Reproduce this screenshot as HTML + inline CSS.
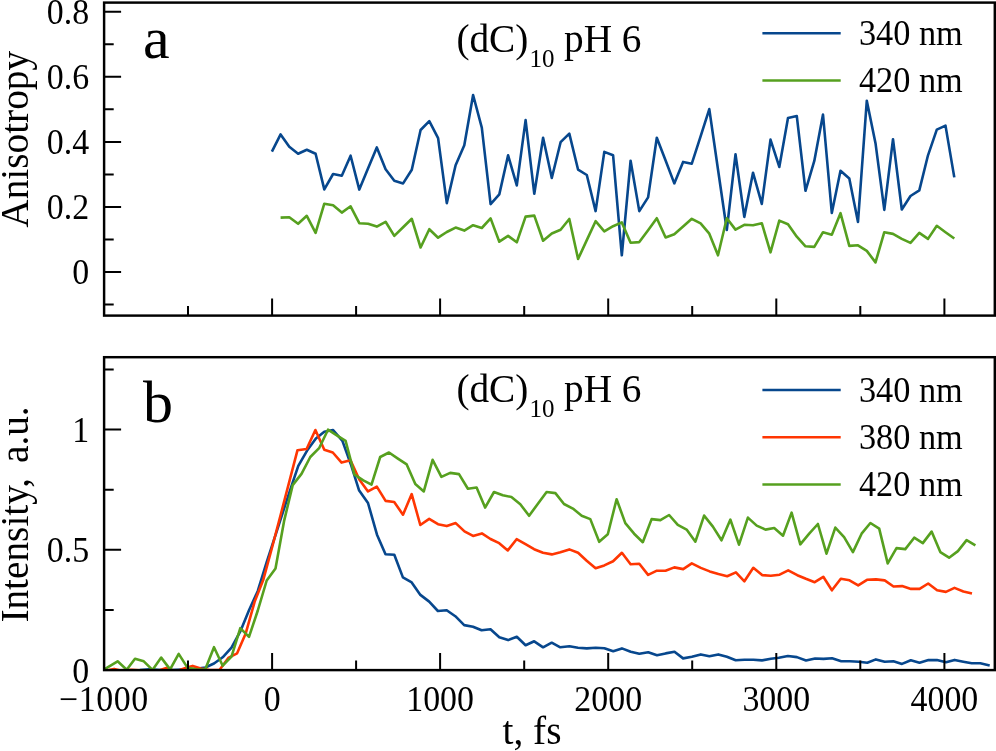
<!DOCTYPE html>
<html lang="en"><head><meta charset="utf-8"><title>(dC)10 pH 6 anisotropy and intensity</title>
<style>html,body{margin:0;padding:0;background:#fff}body{width:996px;height:751px;overflow:hidden}svg{display:block}text{font-family:"Liberation Serif","Times New Roman",Times,serif;fill:#000}.tk{font-size:33.9px}.lg{font-size:34.3px}.ng{letter-spacing:0.55px}.lb{font-size:39.3px}.pn{font-size:60px}.sb{font-size:25px}.ws{word-spacing:5.0px}</style></head><body>
<svg width="996" height="751" viewBox="0 0 996 751">
<rect x="0" y="0" width="996" height="751" fill="#fff"/>
<defs><clipPath id="ca"><rect x="104.1" y="2.6" width="890.7" height="313.0"/></clipPath><clipPath id="cb"><rect x="104.1" y="357.2" width="890.7" height="312.9"/></clipPath></defs>
<g clip-path="url(#ca)">
<polyline points="271.9,151.7 280.6,134.4 289.3,146.8 298.1,153.7 306.8,149.7 315.6,153.7 324.3,189.4 333.1,174.0 341.8,175.8 350.6,155.7 359.3,189.6 368.1,168.3 376.8,147.4 385.6,169.3 394.3,180.8 403.1,183.4 411.8,169.7 420.6,130.0 429.3,121.1 438.1,138.2 446.8,203.1 455.6,165.3 464.3,145.2 473.1,95.0 481.8,127.6 490.6,204.1 499.3,194.4 508.1,155.3 516.8,185.4 525.6,120.1 534.3,193.8 543.1,137.8 551.8,178.0 560.6,142.2 569.3,133.6 578.1,169.7 586.8,175.0 595.6,211.1 604.3,151.9 613.1,155.3 621.8,255.3 630.6,160.7 639.3,211.1 648.1,197.4 656.8,137.8 665.6,160.5 674.3,183.4 683.1,161.9 691.8,163.7 700.6,136.4 709.3,109.1 718.0,169.5 726.8,230.0 735.5,154.3 744.3,216.9 753.0,172.7 761.8,203.9 770.5,139.6 779.3,166.9 788.0,118.1 796.8,116.1 805.5,190.8 814.3,160.9 823.0,114.5 831.8,212.9 840.5,170.7 849.3,178.4 858.0,221.9 866.8,100.7 875.5,143.2 884.3,209.9 893.0,139.2 901.8,209.5 910.5,196.0 919.3,190.4 928.0,155.3 936.8,129.6 945.5,125.6 954.3,177.4" fill="none" stroke="#07478d" stroke-width="2.6" stroke-linejoin="round" stroke-linecap="butt"/>
<polyline points="280.6,217.6 289.3,217.2 298.1,223.8 306.8,215.8 315.6,232.9 324.3,203.7 333.1,205.3 341.8,212.6 350.6,206.3 359.3,223.2 368.1,223.8 376.8,226.6 385.6,221.8 394.3,235.9 403.1,227.3 411.8,218.8 420.6,247.5 429.3,229.2 438.1,237.7 446.8,232.0 455.6,227.6 464.3,230.6 473.1,225.2 481.8,228.0 490.6,218.4 499.3,241.7 508.1,235.9 516.8,242.3 525.6,216.6 534.3,215.6 543.1,240.7 551.8,233.5 560.6,229.8 569.3,219.0 578.1,259.0 586.8,240.1 595.6,221.2 604.3,231.4 613.1,226.2 621.8,222.4 630.6,242.7 639.3,242.1 648.1,230.2 656.8,218.2 665.6,237.5 674.3,234.3 683.1,226.6 691.8,218.8 700.6,223.4 709.3,233.7 718.0,255.3 726.8,218.2 735.5,229.6 744.3,224.8 753.0,225.2 761.8,223.2 770.5,252.3 779.3,220.6 788.0,224.2 796.8,236.7 805.5,246.3 814.3,246.9 823.0,232.2 831.8,234.7 840.5,213.2 849.3,245.9 858.0,245.3 866.8,250.9 875.5,262.4 884.3,232.2 893.0,233.9 901.8,238.9 910.5,242.9 919.3,232.9 928.0,238.9 936.8,225.8 945.5,232.2 954.3,238.5" fill="none" stroke="#56a01f" stroke-width="2.6" stroke-linejoin="round" stroke-linecap="butt"/>
</g>
<g clip-path="url(#cb)">
<polyline points="104.1,670.2 139.7,670.0 149.7,669.2 164.7,670.2 189.7,669.4 196.3,668.8 205.2,667.5 214.0,663.5 222.7,657.3 231.5,647.6 240.3,631.4 249.0,610.3 257.8,591.0 266.6,562.4 275.9,533.9 285.1,505.4 292.7,482.4 298.3,465.8 307.1,450.6 315.9,438.5 324.3,431.8 333.1,430.0 342.4,440.9 350.8,464.2 359.0,490.2 368.0,503.0 377.0,534.7 385.5,554.3 394.3,554.7 402.9,577.4 411.7,582.4 420.4,594.9 429.2,601.6 437.9,611.0 446.7,610.2 455.3,616.2 464.2,625.1 473.0,626.7 481.6,630.3 490.5,629.3 499.3,637.3 508.1,640.1 516.8,636.7 525.6,645.3 534.2,641.3 543.1,647.3 551.7,642.7 560.3,647.3 569.4,646.3 578.0,647.7 586.8,648.4 595.8,647.7 604.4,648.2 613.2,651.2 621.9,648.4 630.7,651.8 639.3,653.8 648.2,652.2 657.0,655.2 665.6,653.4 674.5,651.8 683.1,658.4 691.9,656.8 700.8,654.4 709.4,656.2 718.3,654.4 726.9,656.8 735.7,660.2 744.4,659.8 753.4,659.8 762.0,660.4 770.9,658.7 778.8,657.8 787.9,656.0 796.9,657.1 806.0,660.5 815.1,658.5 823.5,658.9 832.1,658.3 841.2,661.2 849.8,661.2 858.7,661.7 867.3,662.8 875.9,659.4 884.7,661.7 893.4,661.2 902.0,663.9 910.8,660.3 919.5,662.8 928.5,660.1 936.9,660.1 946.0,662.3 954.6,659.9 963.3,661.7 971.7,663.3 980.3,663.3 989.7,665.5" fill="none" stroke="#07478d" stroke-width="2.6" stroke-linejoin="round" stroke-linecap="butt"/>
<polyline points="104.1,670.3 108.7,670.0 114.1,668.9 119.7,670.3 131.7,669.8 139.7,670.3 159.7,670.3 166.3,668.0 172.7,670.3 179.7,670.0 187.7,667.3 192.7,665.9 200.7,668.5 209.7,670.0 219.5,669.9 228.3,657.9 237.1,653.3 245.8,633.2 254.6,601.8 263.4,579.4 272.2,547.0 281.0,513.5 289.7,480.1 297.5,450.2 306.6,449.0 315.4,430.0 324.3,449.8 332.8,452.5 341.6,462.6 350.5,460.2 359.3,479.5 368.0,491.4 376.8,486.6 385.6,500.9 394.2,502.0 403.0,514.7 411.7,494.1 420.3,525.0 429.2,518.9 438.0,524.2 446.8,526.1 455.7,523.1 464.5,531.4 473.0,535.9 481.9,533.4 490.5,539.0 499.2,543.2 507.8,550.4 516.6,539.2 525.5,544.2 534.1,549.2 543.0,552.8 551.8,554.4 560.4,552.2 569.3,549.4 578.1,552.8 586.7,560.8 595.6,568.3 604.3,565.4 613.1,561.3 621.9,552.8 630.6,564.3 639.3,563.7 648.1,574.9 656.9,570.7 665.5,570.8 674.3,567.4 683.2,569.1 691.8,563.4 700.8,567.9 709.7,571.4 718.4,574.1 727.2,576.2 735.9,572.4 744.4,581.3 753.3,567.8 762.1,575.1 770.8,575.8 779.6,574.7 788.2,570.4 797.3,575.2 805.9,578.8 814.7,582.2 823.3,576.8 831.9,590.3 840.8,578.8 849.5,580.3 858.2,585.4 867.0,579.8 876.0,579.4 884.7,580.4 893.5,586.5 902.1,586.1 911.0,588.9 919.6,588.9 928.2,583.5 937.1,590.3 945.9,591.9 954.5,587.9 963.4,591.5 972.0,593.5" fill="none" stroke="#ff3602" stroke-width="2.6" stroke-linejoin="round" stroke-linecap="butt"/>
<polyline points="104.1,669.5 117.6,661.3 126.7,669.7 135.0,658.7 143.8,661.3 152.5,669.9 161.2,657.6 170.1,669.4 178.7,653.9 187.6,667.9 196.3,669.2 205.2,669.5 214.0,647.2 222.7,665.7 231.5,656.6 240.3,628.2 249.0,636.8 257.8,610.5 266.7,580.5 275.5,568.4 284.1,520.9 292.7,485.1 301.5,473.9 310.3,457.0 319.1,448.2 328.0,429.7 336.8,435.3 345.6,440.9 354.5,474.7 363.3,480.3 371.5,484.6 380.2,457.0 389.0,452.5 397.9,458.6 406.7,464.4 415.3,484.1 423.8,491.4 432.6,459.8 441.4,476.9 450.2,472.9 459.0,474.1 467.9,488.7 476.6,487.5 485.1,507.6 494.0,492.0 502.8,495.2 511.4,497.0 520.3,504.2 529.1,515.8 537.9,503.7 546.6,492.0 555.4,493.1 564.0,504.0 572.9,508.6 581.7,515.7 590.3,519.1 599.2,541.8 607.8,534.3 616.6,499.2 625.3,523.1 634.1,533.7 642.8,542.2 651.6,519.1 660.4,520.1 669.1,515.0 677.8,524.9 686.6,529.6 695.4,541.7 704.1,515.6 712.9,526.6 721.5,540.3 730.4,519.6 739.0,544.7 747.9,517.6 756.7,525.6 765.5,529.6 774.2,528.0 783.0,535.7 791.6,512.6 800.3,544.3 809.2,533.7 817.9,524.0 826.5,553.7 835.3,527.6 844.1,537.1 852.9,552.1 861.6,533.7 870.4,523.0 879.2,528.6 887.7,563.4 896.5,548.1 905.3,549.1 914.2,537.7 922.8,543.1 931.6,531.6 940.3,552.1 949.1,557.7 957.9,551.1 966.6,540.1 975.4,545.3" fill="none" stroke="#56a01f" stroke-width="2.6" stroke-linejoin="round" stroke-linecap="butt"/>
</g>
<path d="M272.1 315.6V298.6M272.1 670.1V653.1M440.1 315.6V298.6M440.1 670.1V653.1M608.2 315.6V298.6M608.2 670.1V653.1M776.3 315.6V298.6M776.3 670.1V653.1M944.4 315.6V298.6M944.4 670.1V653.1M188.0 315.6V306.0M188.0 670.1V660.5M356.1 315.6V306.0M356.1 670.1V660.5M524.2 315.6V306.0M524.2 670.1V660.5M692.2 315.6V306.0M692.2 670.1V660.5M860.3 315.6V306.0M860.3 670.1V660.5M104.1 271.9H121.1M104.1 206.9H121.1M104.1 141.9H121.1M104.1 76.8H121.1M104.1 11.8H121.1M104.1 304.5H113.7M104.1 239.4H113.7M104.1 174.4H113.7M104.1 109.3H113.7M104.1 44.3H113.7M104.1 549.8H121.1M104.1 429.5H121.1M104.1 610.0H113.7M104.1 489.7H113.7M104.1 369.4H113.7" fill="none" stroke="#000" stroke-width="2.0"/>
<rect x="104.1" y="2.6" width="890.7" height="313.0" fill="none" stroke="#000" stroke-width="2.45"/>
<rect x="104.1" y="357.2" width="890.7" height="312.9" fill="none" stroke="#000" stroke-width="2.45"/>
<text class="tk" transform="translate(89.1 23.8) scale(1 1.045)" text-anchor="end">0.8</text>
<text class="tk" transform="translate(89.1 88.8) scale(1 1.045)" text-anchor="end">0.6</text>
<text class="tk" transform="translate(89.1 153.9) scale(1 1.045)" text-anchor="end">0.4</text>
<text class="tk" transform="translate(89.1 218.9) scale(1 1.045)" text-anchor="end">0.2</text>
<text class="tk" transform="translate(89.1 283.9) scale(1 1.045)" text-anchor="end">0</text>
<text class="tk" transform="translate(89.2 441.9) scale(1 1.045)" text-anchor="end">1</text>
<text class="tk" transform="translate(89.2 562.2) scale(1 1.045)" text-anchor="end">0.5</text>
<text class="tk" transform="translate(89.2 682.5) scale(1 1.045)" text-anchor="end">0</text>
<text class="tk ng" transform="translate(103.9 710.9) scale(1 1.045)" text-anchor="middle">−1000</text>
<text class="tk" transform="translate(272.1 710.9) scale(1 1.045)" text-anchor="middle">0</text>
<text class="tk" transform="translate(440.1 710.9) scale(1 1.045)" text-anchor="middle">1000</text>
<text class="tk" transform="translate(608.2 710.9) scale(1 1.045)" text-anchor="middle">2000</text>
<text class="tk" transform="translate(776.3 710.9) scale(1 1.045)" text-anchor="middle">3000</text>
<text class="tk" transform="translate(944.4 710.9) scale(1 1.045)" text-anchor="middle">4000</text>
<text class="lb" transform="translate(532.0 744.0) scale(1 1.030)" text-anchor="middle">t, fs</text>
<text class="lb" transform="translate(28.1 139.3) rotate(-90) scale(1 1.030)" text-anchor="middle">Anisotropy</text>
<text class="lb ws" transform="translate(28.1 622.6) rotate(-90) scale(1 1.030)">Intensity, a.u.</text>
<text class="pn" transform="translate(142.9 58.2) scale(1 0.985)">a</text>
<text class="pn" transform="translate(143.0 422.2) scale(1 0.985)">b</text>
<text class="lb" transform="translate(456.4 51.6) scale(1 1.030)">(dC)<tspan class="sb" dx="1.2" dy="14.6">10</tspan><tspan dy="-14.6" dx="-0.4"> pH 6</tspan></text>
<text class="lb" transform="translate(456.4 401.6) scale(1 1.030)">(dC)<tspan class="sb" dx="1.2" dy="14.6">10</tspan><tspan dy="-14.6" dx="-0.4"> pH 6</tspan></text>
<path d="M762.4 33.30H840.7" stroke="#07478d" stroke-width="2.4" fill="none"/>
<text class="lg" transform="translate(858.9 44.9) scale(1 1.033)">340 nm</text>
<path d="M762.4 80.50H840.7" stroke="#56a01f" stroke-width="2.4" fill="none"/>
<text class="lg" transform="translate(858.9 92.3) scale(1 1.033)">420 nm</text>
<path d="M762.4 390.00H840.7" stroke="#07478d" stroke-width="2.4" fill="none"/>
<text class="lg" transform="translate(858.9 401.7) scale(1 1.033)">340 nm</text>
<path d="M762.4 437.25H840.7" stroke="#ff3602" stroke-width="2.4" fill="none"/>
<text class="lg" transform="translate(858.9 448.8) scale(1 1.033)">380 nm</text>
<path d="M762.4 484.50H840.7" stroke="#56a01f" stroke-width="2.4" fill="none"/>
<text class="lg" transform="translate(858.9 496.0) scale(1 1.033)">420 nm</text>
</svg></body></html>
